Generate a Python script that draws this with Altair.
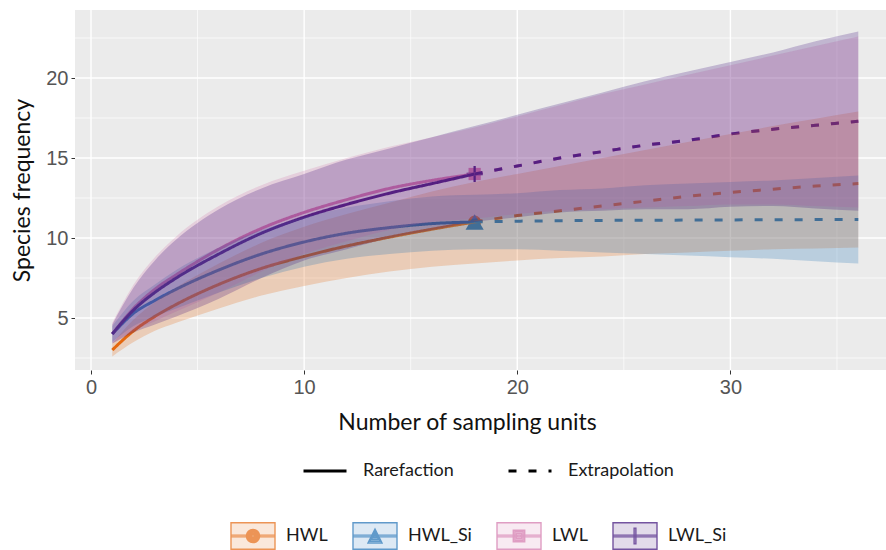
import altair as alt
import pandas as pd

# Assemblages, their colours and the curve types
groups = ["HWL", "HWL_Si", "LWL", "LWL_Si"]
colors = ["#E4680F", "#1E70B5", "#D274AA", "#3A0C78"]
key_fills = ["#F7D2B7", "#BCD4E9", "#F2D5E6", "#C4B6D6"]
point_shapes = ["circle", "triangle-up", "square", "M-1,-0.14H1V0.14H-1Z M-0.14,-1H0.14V1H-0.14Z"]
point_sizes = [170, 330, 150, 260]
methods = ["Rarefaction", "Extrapolation"]
t_observed = 18

# Axis ranges, ticks and grid positions
x_domain = [-0.75, 37.3]
y_domain = [1.75, 24.25]
x_major = [0, 10, 20, 30]
y_major = [5, 10, 15, 20]
x_minor = [5, 15, 25, 35]
y_minor = [2.5, 7.5, 12.5, 17.5, 22.5]

# Number of sampling units at which the curves are evaluated
sampling_units = [1, 2, 3, 4, 6, 8, 10, 12, 14, 16, 18, 20, 22, 24, 26, 28, 30, 32, 34, 36]

# Estimated species frequency with lower / upper confidence limits
hwl_est = [3.0, 4.2, 5.1, 5.85, 7.1, 8.1, 8.85, 9.5, 10.05, 10.55, 11.0,
           11.4, 11.7, 12.0, 12.3, 12.6, 12.85, 13.05, 13.25, 13.4]
hwl_lcl = [2.6, 3.5, 4.2, 4.7, 5.6, 6.4, 7.0, 7.5, 7.9, 8.2, 8.4,
           8.6, 8.75, 8.85, 9.0, 9.1, 9.2, 9.3, 9.35, 9.4]
hwl_ucl = [3.4, 4.9, 6.0, 6.9, 8.4, 9.7, 10.7, 11.5, 12.2, 12.9, 13.5,
           14.0, 14.5, 15.0, 15.5, 16.0, 16.5, 17.0, 17.45, 17.9]

hwl_si_est = [4.0, 5.3, 6.1, 6.8, 8.0, 9.0, 9.75, 10.3, 10.65, 10.9, 11.0,
              11.05, 11.08, 11.1, 11.11, 11.12, 11.13, 11.14, 11.15, 11.15]
hwl_si_lcl = [3.5, 4.5, 5.1, 5.6, 6.6, 7.5, 8.2, 8.7, 9.0, 9.2, 9.3,
              9.3, 9.2, 9.1, 9.0, 8.9, 8.8, 8.7, 8.55, 8.4]
hwl_si_ucl = [4.5, 6.1, 7.1, 8.0, 9.4, 10.5, 11.3, 11.9, 12.3, 12.6, 12.7,
              12.8, 13.0, 13.1, 13.3, 13.4, 13.5, 13.6, 13.75, 13.9]

lwl_est = [4.0, 5.6, 6.8, 7.7, 9.3, 10.6, 11.6, 12.4, 13.1, 13.6, 14.0,
           14.5, 15.0, 15.4, 15.8, 16.1, 16.5, 16.8, 17.05, 17.3]
lwl_lcl = [3.4, 4.2, 4.8, 5.4, 6.6, 7.9, 9.0, 9.8, 10.5, 11.0, 11.2,
           11.5, 11.7, 11.8, 11.9, 12.0, 12.1, 12.1, 12.0, 11.9]
lwl_ucl = [4.7, 7.1, 8.8, 10.1, 12.0, 13.3, 14.2, 15.0, 15.7, 16.3, 16.9,
           17.6, 18.3, 19.0, 19.6, 20.2, 20.8, 21.4, 22.0, 22.6]

lwl_si_est = [4.0, 5.5, 6.6, 7.5, 9.0, 10.3, 11.3, 12.1, 12.8, 13.4, 14.0,
              14.5, 15.0, 15.4, 15.8, 16.1, 16.5, 16.8, 17.05, 17.3]
lwl_si_lcl = [3.4, 4.1, 4.6, 5.1, 6.2, 7.5, 8.6, 9.3, 10.0, 10.5, 11.0,
              11.3, 11.6, 11.7, 11.8, 11.8, 11.95, 12.0, 11.85, 11.7]
lwl_si_ucl = [4.6, 6.9, 8.6, 9.9, 11.8, 13.1, 14.0, 14.9, 15.6, 16.3, 17.0,
              17.7, 18.4, 19.1, 19.8, 20.4, 21.0, 21.6, 22.3, 22.9]

series = {
    "HWL": (hwl_est, hwl_lcl, hwl_ucl),
    "HWL_Si": (hwl_si_est, hwl_si_lcl, hwl_si_ucl),
    "LWL": (lwl_est, lwl_lcl, lwl_ucl),
    "LWL_Si": (lwl_si_est, lwl_si_lcl, lwl_si_ucl),
}

band_rows, line_rows = [], []
for g in groups:
    est, lcl, ucl = series[g]
    for t, e, lo, hi in zip(sampling_units, est, lcl, ucl):
        band_rows.append({"group": g, "t": t, "est": e, "lcl": lo, "ucl": hi})
        if t <= t_observed:
            line_rows.append({"group": g, "t": t, "est": e, "method": "Rarefaction"})
        if t >= t_observed:
            line_rows.append({"group": g, "t": t, "est": e, "method": "Extrapolation"})

band_df = pd.DataFrame(band_rows)
line_df = pd.DataFrame(line_rows)
obs_df = band_df[band_df["t"] == t_observed]
key_df = pd.DataFrame({"key": groups})
panel_df = pd.DataFrame({"x0": [x_domain[0]], "x1": [x_domain[1]],
                         "y0": [y_domain[0]], "y1": [y_domain[1]]})

x_scale = alt.Scale(domain=x_domain, nice=False, zero=False)
y_scale = alt.Scale(domain=y_domain, nice=False, zero=False)
# colour domain comes from the data (sorted), so it stays apart from the key legend
color_scale = alt.Scale(range=colors)

tick_font = "Liberation Sans"
text_font = "Lato"

x_axis = alt.Axis(
    values=x_major, grid=False, domain=False, tickColor="#333333", tickSize=4,
    labelPadding=3, labelFont=tick_font, labelFontSize=20, labelColor="#555555",
    title="Number of sampling units", titleFont=text_font, titleFontSize=23,
    titleFontWeight="normal", titleColor="#111111",
    titleX=392, titleY=52, titleBaseline="middle", titleAlign="center",
)
y_axis = alt.Axis(
    values=y_major, grid=False, domain=False, tickColor="#333333", tickSize=4,
    labelPadding=3, labelFont=tick_font, labelFontSize=20, labelColor="#555555",
    title="Species frequency", titleFont=text_font, titleFontSize=23,
    titleFontWeight="normal", titleColor="#111111",
    titleX=-53, titleY=180, titleBaseline="middle", titleAlign="center", titleAngle=270,
)
X = lambda f: alt.X(f, type="quantitative", scale=x_scale, axis=x_axis)
Y = lambda f: alt.Y(f, type="quantitative", scale=y_scale, axis=y_axis)

# Panel background
panel = alt.Chart(panel_df).mark_rect(color="#EBEBEB").encode(
    x=X("x0"), x2="x1", y=Y("y0"), y2="y1"
)


def grid(values, channel, width):
    df = pd.DataFrame({"v": values})
    enc = {"x": X("v")} if channel == "x" else {"y": Y("v")}
    return alt.Chart(df).mark_rule(color="white", strokeWidth=width).encode(**enc)


grids = [grid(x_minor, "x", 0.7), grid(y_minor, "y", 0.7),
         grid(x_major, "x", 1.4), grid(y_major, "y", 1.4)]

# Observed points, one marker type per assemblage
points = [
    alt.Chart(obs_df).transform_filter(alt.datum.group == g).mark_point(
        filled=True, size=sz, opacity=1, shape=s
    ).encode(x=X("t"), y=Y("est"), color=alt.Color("group:N", scale=color_scale, legend=None))
    for g, s, sz in zip(groups, point_shapes, point_sizes)
]

# Rarefaction / extrapolation curves
lines = alt.Chart(line_df).mark_line(strokeWidth=3, interpolate="monotone").encode(
    x=X("t"),
    y=Y("est"),
    color=alt.Color("group:N", scale=color_scale, legend=None),
    strokeDash=alt.StrokeDash(
        "method:N",
        scale=alt.Scale(domain=methods, range=[[1, 0], [8, 12]]),
        legend=alt.Legend(
            orient="none", legendX=227, legendY=438, direction="horizontal",
            title=None, symbolType="stroke", symbolSize=1849,
            symbolStrokeColor="black", symbolStrokeWidth=3,
            labelFont=text_font, labelFontSize=18, labelColor="#1a1a1a",
            labelOffset=15, columnPadding=48, padding=0,
        ),
    ),
    detail="group:N",
    order="t:Q",
)

# Confidence bands (areas are sorted along x by default)
bands = alt.Chart(band_df).mark_area(opacity=0.24, interpolate="monotone").encode(
    x=X("t"),
    y=Y("lcl"),
    y2="ucl:Q",
    color=alt.Color("group:N", scale=color_scale, legend=None),
)


# Key glyphs: light box, thick line and solid marker, outlined in the group colour
def nested(fmt, sizes):
    return " ".join(fmt.format(s=s, n=-s) for s in sizes)


box = "M-1,-0.6H1V0.6H-1Z "
bar = "M-1,-0.04H1V0.04H-1Z "
key_shapes = [
    box + bar + nested("M{n},0A{s},{s} 0 1,1 {s},0A{s},{s} 0 1,1 {n},0Z",
                       [0.3, 0.24, 0.18, 0.12, 0.06]),
    box + bar + nested("M0,{n}L{s},{s}L{n},{s}Z", [0.32, 0.24, 0.16, 0.08]),
    box + bar + nested("M{n},{n}H{s}V{s}H{n}Z", [0.26, 0.19, 0.12, 0.05]),
    box + bar + "M-0.04,-0.36H0.04V0.36H-0.04Z",
]
keys = alt.Chart(key_df).transform_filter("false").mark_point(
    filled=False, strokeWidth=1.4
).encode(
    shape=alt.Shape("key:N", scale=alt.Scale(domain=groups, range=key_shapes), legend=alt.Legend(
        orient="none", legendX=155, legendY=503, direction="horizontal",
        title=None, symbolSize=1936, symbolStrokeWidth=1.4,
        labelFont=text_font, labelFontSize=18, labelColor="#1a1a1a",
        labelOffset=10, columnPadding=22, padding=0,
    )),
    fill=alt.Fill("key:N", scale=alt.Scale(domain=groups, range=key_fills)),
    stroke=alt.Stroke("key:N", scale=alt.Scale(domain=groups, range=colors)),
)

chart = alt.layer(panel, *grids, *points, lines, bands, keys).properties(
    width=811, height=360,
    autosize=alt.AutoSizeParams(type="none"),
    padding={"left": 75, "top": 10, "right": 0, "bottom": 180},
    background="white",
).configure_view(strokeWidth=0)

chart.save("out.html", embed_options={"renderer": "svg", "actions": False})
